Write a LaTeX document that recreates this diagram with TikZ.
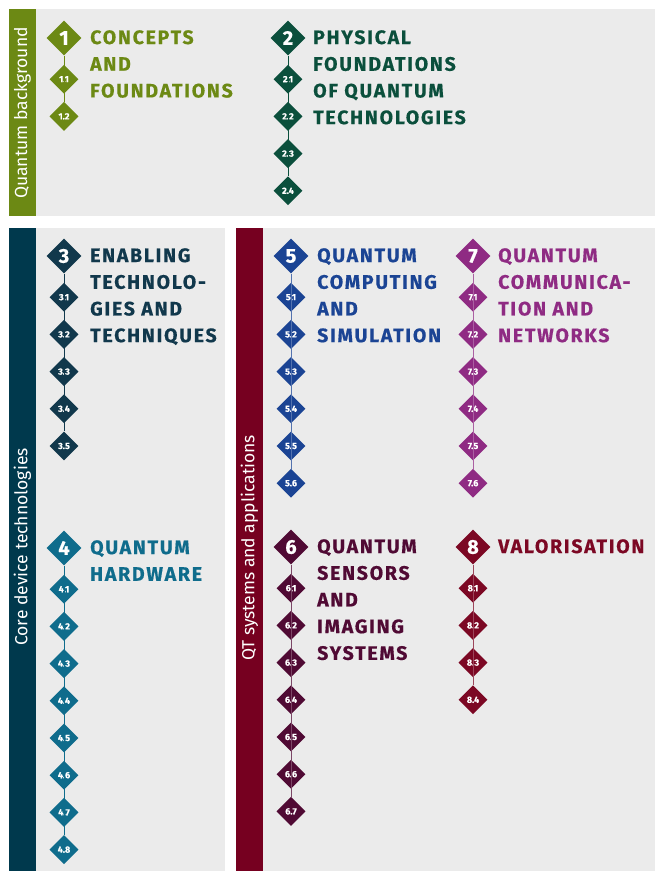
\documentclass[tikz,border=0pt]{standalone}
\usepackage{fontspec}
\setmainfont{Fira Sans}
\newfontfamily\titlefont[LetterSpace=9,BoldFeatures={FakeBold=0.5}]{Fira Sans}
\newfontfamily\numfont[BoldFeatures={FakeBold=0.5}]{Fira Sans}
\usetikzlibrary{shapes.geometric}

\definecolor{panelgray}{RGB}{235,235,235}
\definecolor{qbgreen}{RGB}{108,137,20}
\definecolor{corebar}{RGB}{0,57,77}
\definecolor{qtbar}{RGB}{118,0,32}
\definecolor{secone}{RGB}{108,137,20}
\definecolor{sectwo}{RGB}{11,79,60}
\definecolor{secthree}{RGB}{17,56,76}
\definecolor{secfour}{RGB}{15,108,140}
\definecolor{secfive}{RGB}{27,68,148}
\definecolor{secsix}{RGB}{80,10,52}
\definecolor{secseven}{RGB}{143,43,131}
\definecolor{seceight}{RGB}{124,8,36}

\tikzset{
  bigdia/.style={diamond, fill=#1, text=white, minimum width=35pt, minimum height=35pt,
    inner sep=0pt, font=\numfont\fontsize{20}{20}\selectfont\bfseries},
  smalldia/.style={diamond, fill=#1, text=white, minimum width=29pt, minimum height=29pt,
    inner sep=0pt, font=\numfont\fontsize{9}{9}\selectfont\bfseries},
  title/.style={anchor=north west, inner sep=0pt, align=left, text=#1,
    font=\titlefont\fontsize{19.5}{26.7}\selectfont\bfseries},
  barlabel/.style={rotate=90, text=white, inner sep=0pt, font=\fontsize{17.5}{17.5}\selectfont},
  link/.style={draw=#1, line width=0.8pt},
}

\begin{document}
\begin{tikzpicture}[x=1pt,y=-1pt]
  \useasboundingbox (0,0) rectangle (655,871);

  % panels and side bars
  \fill[panelgray] (36,9) rectangle (655,216);
  \fill[qbgreen] (9,9) rectangle (36,216);
  \fill[panelgray] (36,228) rectangle (225,871);
  \fill[corebar] (9,228) rectangle (36,871);
  \fill[panelgray] (263,228) rectangle (655,871);
  \fill[qtbar] (236,228) rectangle (263,871);

  \node[barlabel] (qb) at (22.5,113) {Quantum background};
  \node[barlabel] (core) at (22.5,547) {Core device technologies};
  \node[barlabel] (qt) at (249.5,548) {QT systems and applications};

  % 1
  \node[bigdia=secone] (s1) at (64,38) {1};
  \node[title=secone] (t1) at (90,30) {CONCEPTS\\AND\\FOUNDATIONS};
  \foreach \k in {1,2}
    \node[smalldia=secone] (s1-\k) at (64,42+37.2*\k) {1.\k};
  \draw[link=secone] (s1) \foreach \k in {1,2} {-- (s1-\k)};

  % 2
  \node[bigdia=sectwo] (s2) at (288,38) {2};
  \node[title=sectwo] (t2) at (313,30) {PHYSICAL\\FOUNDATIONS\\OF QUANTUM\\TECHNOLOGIES};
  \foreach \k in {1,...,4}
    \node[smalldia=sectwo] (s2-\k) at (288,42+37.2*\k) {2.\k};
  \draw[link=sectwo] (s2) \foreach \k in {1,...,4} {-- (s2-\k)};

  % 3
  \node[bigdia=secthree] (s3) at (64,256) {3};
  \node[title=secthree] (t3) at (90,248) {ENABLING\\TECHNOLO-\\GIES AND\\TECHNIQUES};
  \foreach \k in {1,...,5}
    \node[smalldia=secthree] (s3-\k) at (64,260+37.2*\k) {3.\k};
  \draw[link=secthree] (s3) \foreach \k in {1,...,5} {-- (s3-\k)};

  % 4
  \node[bigdia=secfour] (s4) at (64,548) {4};
  \node[title=secfour] (t4) at (90,540) {QUANTUM\\HARDWARE};
  \foreach \k in {1,...,8}
    \node[smalldia=secfour] (s4-\k) at (64,552+37.2*\k) {4.\k};
  \draw[link=secfour] (s4) \foreach \k in {1,...,8} {-- (s4-\k)};

  % 5
  \node[bigdia=secfive] (s5) at (291,256) {5};
  \node[title=secfive] (t5) at (317,248) {QUANTUM\\COMPUTING\\AND\\SIMULATION};
  \foreach \k in {1,...,6}
    \node[smalldia=secfive] (s5-\k) at (291,260+37.2*\k) {5.\k};
  \draw[link=secfive!75] (s5) \foreach \k in {1,...,6} {-- (s5-\k)};

  % 6
  \node[bigdia=secsix] (s6) at (291,547) {6};
  \node[title=secsix] (t6) at (317,539) {QUANTUM\\SENSORS\\AND\\IMAGING\\SYSTEMS};
  \foreach \k in {1,...,7}
    \node[smalldia=secsix] (s6-\k) at (291,551+37.2*\k) {6.\k};
  \draw[link=secsix!75] (s6) \foreach \k in {1,...,7} {-- (s6-\k)};

  % 7
  \node[bigdia=secseven] (s7) at (473,256) {7};
  \node[title=secseven] (t7) at (498,248) {QUANTUM\\COMMUNICA-\\TION AND\\NETWORKS};
  \foreach \k in {1,...,6}
    \node[smalldia=secseven] (s7-\k) at (473,260+37.2*\k) {7.\k};
  \draw[link=secseven!75] (s7) \foreach \k in {1,...,6} {-- (s7-\k)};

  % 8
  \node[bigdia=seceight] (s8) at (473,547) {8};
  \node[title=seceight] (t8) at (498,539) {VALORISATION};
  \foreach \k in {1,...,4}
    \node[smalldia=seceight] (s8-\k) at (473,551+37.2*\k) {8.\k};
  \draw[link=seceight!75] (s8) \foreach \k in {1,...,4} {-- (s8-\k)};

\end{tikzpicture}
\end{document}
